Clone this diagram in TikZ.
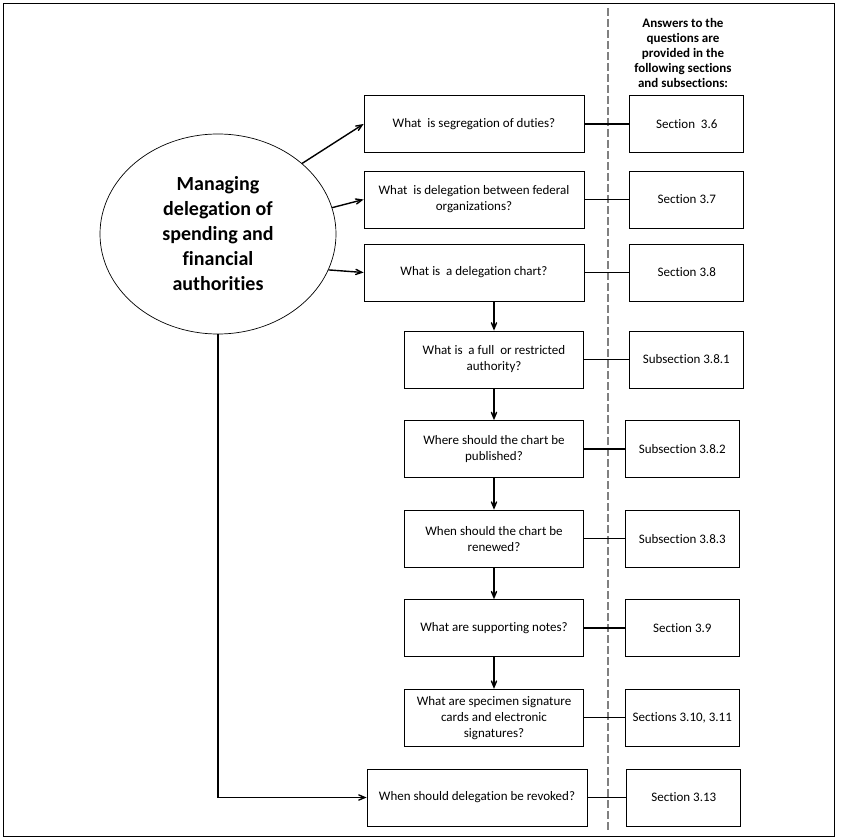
\documentclass[tikz,border=0pt]{standalone}
\usepackage{fontspec}
\setmainfont{Carlito}[Ligatures={NoCommon}]
\usetikzlibrary{arrows, shapes, positioning}

\begin{document}
\begin{tikzpicture}[x=1pt, y=-1pt,
        topic/.style={ellipse, draw, line width=0.7pt, minimum width=236pt, minimum height=200pt, align=center, inner sep=0pt, font=\fontsize{20}{25}\selectfont\bfseries},
        question/.style={rectangle, draw, line width=0.8pt, minimum width=220pt, minimum height=57pt, align=center, font=\fontsize{13}{16}\selectfont},
        subquestion/.style={question, minimum width=179pt},
        answer/.style={rectangle, draw, line width=0.8pt, minimum width=114pt, minimum height=57pt, align=center, font=\fontsize{13}{16}\selectfont},
        header/.style={align=center, font=\fontsize{13}{15}\selectfont\bfseries},
        link/.style={line width=1.4pt},
        flow/.style={->, >=angle 45, line width=1.4pt},
        node distance=31.75pt]
        % frame and divider
        \useasboundingbox (0,0) rectangle (841,840);
        \draw[line width=0.8pt] (3,3) rectangle (834,836);
        \coordinate (dtop) at (608,8);
        \coordinate (dbot) at (608,831);
        \draw[gray, line width=1.2pt, dash pattern=on 8pt off 3pt] (dtop) -- (dbot);

        \node[topic] (mgmt) at (218,234) {Managing\\delegation of\\spending and\\financial\\authorities};

        \node[question] (q1) at (474,124) {What\ \ is segregation of duties?};
        \node[question] (q2) at (474,199.5) {What\ \ is delegation between federal\\organizations?};
        \node[question] (q3) at (474,272.5) {What is\ \ a delegation chart?};
        \node[subquestion] (q4) at (494,359.5) {What is\ \ a full\ \ or restricted\\authority?};
        \node[subquestion] (q5) [below = of q4] {Where should the chart be\\published?};
        \node[subquestion] (q6) [below = of q5] {When should the chart be\\renewed?};
        \node[subquestion] (q7) [below = of q6] {What are supporting notes?};
        \node[subquestion] (q8) [below = of q7] {What are specimen signature\\cards and electronic\\signatures?};
        \node[question] (q9) at (477,797.5) {When should delegation be revoked?};

        \node[header] (hdr) at (683,53) {Answers to the\\questions are\\provided in the\\following sections\\and subsections:};
        \node[answer] (a1) [right = 45pt of q1] {Section\ \ 3.6};
        \node[answer] (a2) [right = 45pt of q2] {Section 3.7};
        \node[answer] (a3) [right = 45pt of q3] {Section 3.8};
        \node[answer] (a4) [right = 45pt of q4] {Subsection 3.8.1};
        \node[answer] (a5) [right = 41pt of q5] {Subsection 3.8.2};
        \node[answer] (a6) [right = 41pt of q6] {Subsection 3.8.3};
        \node[answer] (a7) [right = 41pt of q7] {Section 3.9};
        \node[answer] (a8) [right = 41pt of q8] {Sections 3.10, 3.11};
        \node[answer] (a9) [right = 39pt of q9] {Section 3.13};

        \path[flow]  (mgmt.40) edge (q1.west);
        \path[flow]  (mgmt.13) edge (q2.west);
        \path[flow]  (mgmt.-18) edge (q3.west);
        \draw[flow]  (mgmt.south) |- (q9.west);
        \draw[flow]  (q3.south -| q4.north) -- (q4.north);
        \foreach \a/\b in {q4/q5, q5/q6, q6/q7, q7/q8}
            \draw[flow] (\a.south) -- (\b.north);
        \foreach \i in {1,...,9}
            \draw[link] (q\i.east) -- (a\i.west);
    \end{tikzpicture}
\end{document}
